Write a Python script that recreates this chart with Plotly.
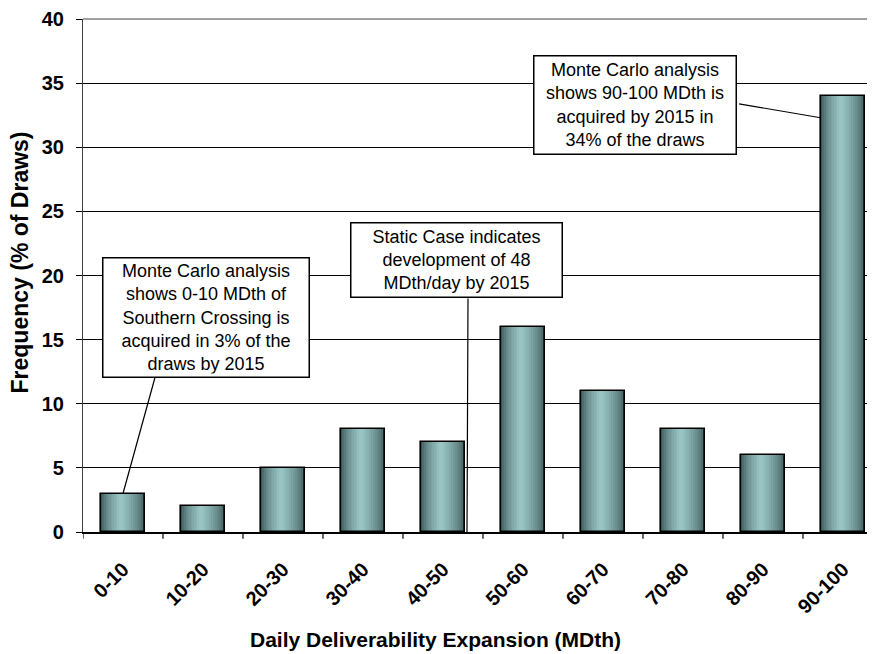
import plotly.graph_objects as go

# data
ranges = ["0-10", "10-20", "20-30", "30-40", "40-50",
          "50-60", "60-70", "70-80", "80-90", "90-100"]
frequency = [3, 2, 5, 8, 7, 16, 11, 8, 6, 34]
y_ticks = [0, 5, 10, 15, 20, 25, 30, 35, 40]

FONT = "Liberation Sans, Arial, sans-serif"
BAR_W = 0.56


def mix(c1, c2, t):
    return "rgb(%d,%d,%d)" % tuple(round(a + (b - a) * t) for a, b in zip(c1, c2))


fig = go.Figure()

# fake cylinder shading: stacked narrower bars getting lighter toward the middle
dark = (55, 82, 82)
light = (152, 196, 196)
n_layers = 12
for k in range(n_layers):
    t = k / (n_layers - 1)
    w = BAR_W * (1 - 0.92 * t)
    fig.add_trace(go.Bar(
        x=list(range(len(ranges))),
        y=frequency,
        width=w,
        offset=-BAR_W / 2 + (BAR_W - w) * 0.45,
        marker_color=mix(dark, light, t ** 0.6),
        marker_line_width=0,
        hoverinfo="skip",
        showlegend=False,
    ))

# outline on top
fig.add_trace(go.Bar(
    x=list(range(len(ranges))),
    y=frequency,
    width=BAR_W,
    marker_color="rgba(0,0,0,0)",
    marker_line_color="black",
    marker_line_width=1.6,
    showlegend=False,
))

box_style = dict(showarrow=False, font=dict(family=FONT, size=18, color="black"),
                 bgcolor="white", bordercolor="black", borderwidth=1.5, borderpad=3,
                 align="center", xref="x", yref="y")

fig.add_annotation(text="Monte Carlo analysis<br>shows 0-10 MDth of<br>Southern Crossing is<br>"
                        "acquired in 3% of the<br>draws by 2015",
                   x=1.04, y=16.7, width=199, height=112, **box_style)
fig.add_annotation(text="Static Case indicates<br>development of 48<br>MDth/day by 2015",
                   x=4.17, y=21.2, width=204, height=67, **box_style)
fig.add_annotation(text="Monte Carlo analysis<br>shows 90-100 MDth is<br>acquired by 2015 in<br>"
                        "34% of the draws",
                   x=6.4, y=33.3, width=195, height=91, **box_style)

# leader lines
line_style = dict(text="", showarrow=True, arrowhead=0, arrowwidth=1.2, arrowcolor="black",
                  standoff=0, startstandoff=0, borderpad=0, font=dict(size=1),
                  xref="x", yref="y", axref="pixel", ayref="pixel")
fig.add_annotation(x=0, y=3, ax=32, ay=-116, **line_style)
fig.add_annotation(x=4.3, y=0, ax=1, ay=-234, **line_style)
fig.add_annotation(x=9 - BAR_W / 2, y=32.3, ax=-82, ay=-14, **line_style)

# axis titles
fig.add_annotation(text="<b>Daily Deliverability Expansion (MDth)</b>", xref="paper", yref="paper",
                   x=0.441, y=-0.21, yanchor="middle", showarrow=False,
                   font=dict(family=FONT, size=21, color="black"))
fig.add_annotation(text="<b>Frequency (% of Draws)</b>", xref="paper", yref="paper",
                   x=-0.079, y=0.525, xanchor="center", textangle=-90, showarrow=False,
                   font=dict(family=FONT, size=23, color="black"))

# plot-area border at the top (grey)
fig.add_shape(type="line", xref="paper", yref="paper", x0=0, x1=1, y0=1, y1=1,
              line=dict(color="#808080", width=1.5))

# the page body adds 8px, so margins are shifted to land the plot area where the original has it
fig.update_layout(
    width=875, height=654,
    margin=dict(l=75, r=0, t=11, b=130),
    paper_bgcolor="white", plot_bgcolor="white",
    barmode="overlay", bargap=0,
    font=dict(family=FONT, color="black"),
    xaxis=dict(
        range=[-0.5, 9.5], automargin=False,
        tickmode="array", tickvals=list(range(len(ranges))), ticktext=["<b>%s</b>" % r for r in ranges],
        tickangle=-45, tickfont=dict(family=FONT, size=20, color="black"),
        showgrid=False, zeroline=False,
        showline=True, linecolor="black", linewidth=1.5,
        ticks="", ticklabelstandoff=16,
    ),
    yaxis=dict(
        range=[0, 40], automargin=False,
        tickvals=y_ticks, ticktext=["<b>%d</b>" % v for v in y_ticks],
        tickfont=dict(family=FONT, size=20, color="black"),
        ticks="outside", ticklen=6, tickcolor="black", tickwidth=1,
        showgrid=True, gridcolor="black", gridwidth=1,
        zeroline=False, showline=True, linecolor="#404040", linewidth=1.2,
        ticklabelstandoff=8,
    ),
)

# x ticks sit on the category boundaries
bounds = [i - 0.5 for i in range(len(ranges))]
for b in bounds:
    fig.add_shape(type="line", xref="x", yref="paper", x0=b, x1=b, y0=0, y1=-0.013,
                  line=dict(color="black", width=1.2))

fig.write_html("out.html")
